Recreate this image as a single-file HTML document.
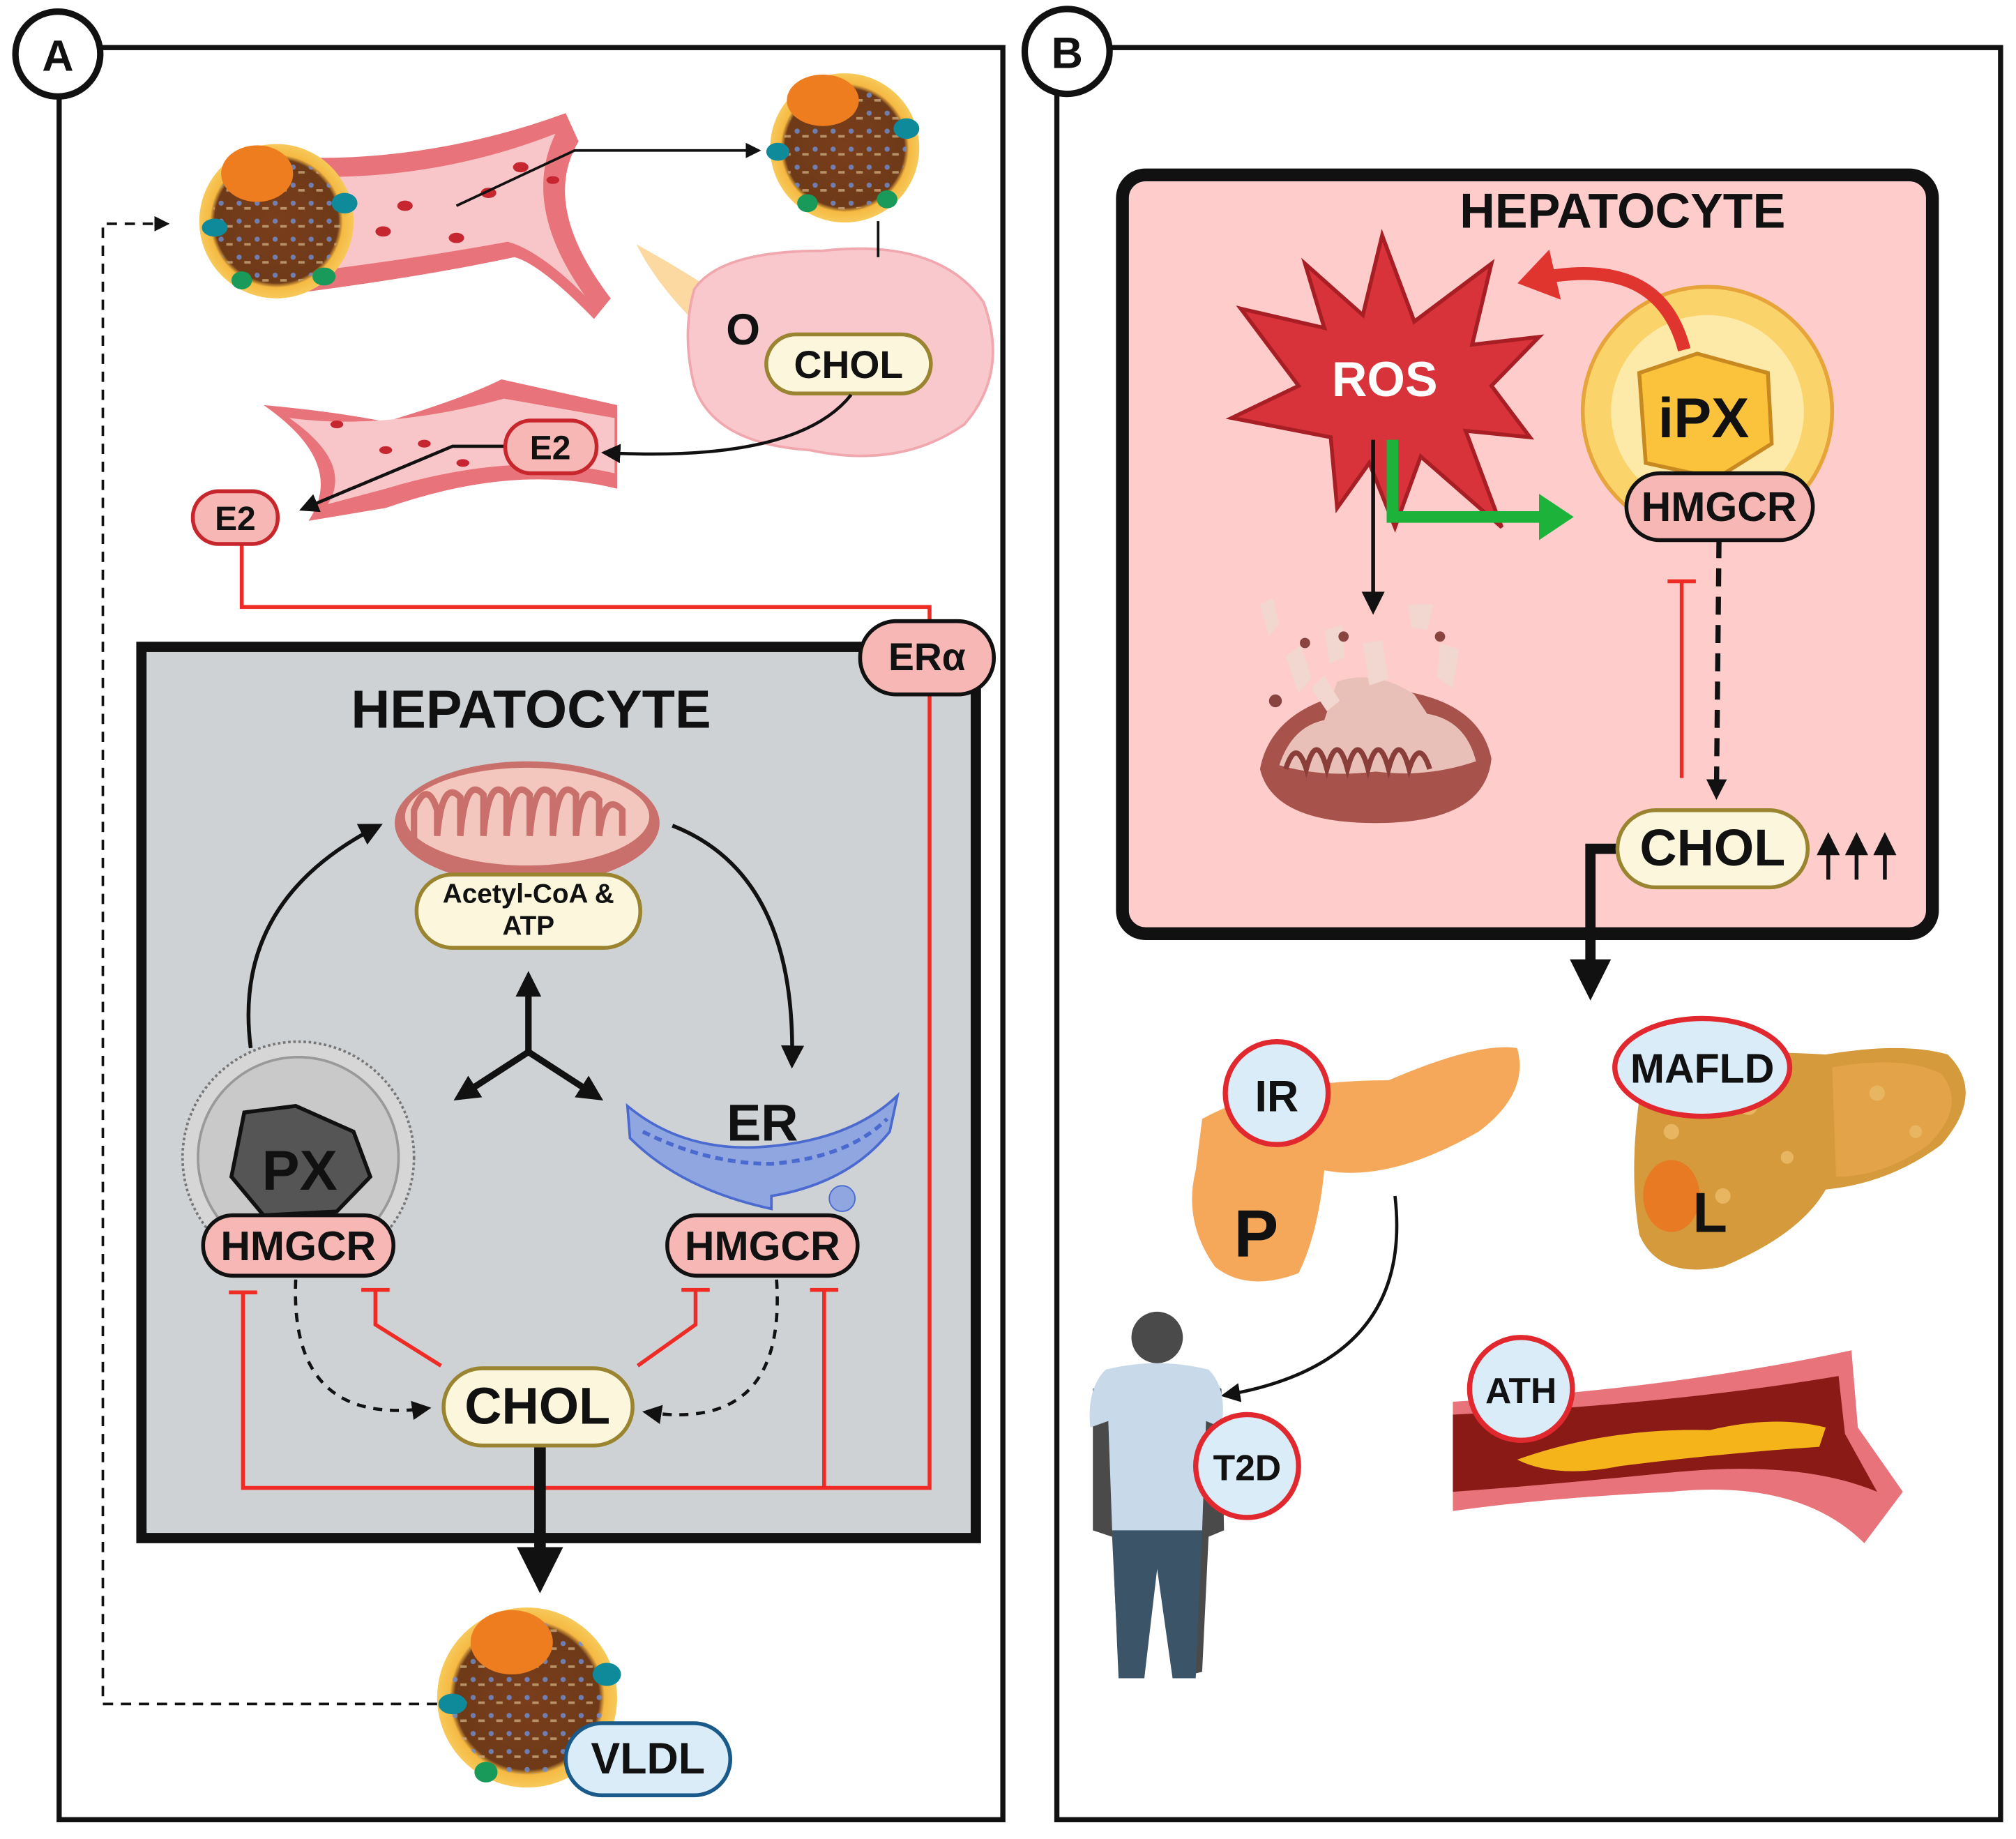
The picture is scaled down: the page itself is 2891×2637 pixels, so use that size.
<!DOCTYPE html>
<html><head><meta charset="utf-8"><style>
html,body{margin:0;padding:0;background:#fff;}
svg{display:block;}
text{font-family:"Liberation Sans",sans-serif;font-weight:bold;}
</style></head><body>
<svg width="2891" height="2637" viewBox="0 0 1568 1430" preserveAspectRatio="none" xmlns="http://www.w3.org/2000/svg">
<defs>
<marker id="ah" markerWidth="6" markerHeight="6" refX="5" refY="3" orient="auto" markerUnits="strokeWidth"><path d="M0,0 L6,3 L0,6 z" fill="#111"/></marker>
<marker id="ahb" markerWidth="4" markerHeight="4" refX="3" refY="2" orient="auto" markerUnits="strokeWidth"><path d="M0,0 L4,2 L0,4 z" fill="#111"/></marker>
<marker id="ahg" markerWidth="4" markerHeight="4" refX="2" refY="2" orient="auto" markerUnits="strokeWidth"><path d="M0,0 L3,2 L0,4 z" fill="#1db33b"/></marker>
<marker id="ahr" markerWidth="4" markerHeight="4" refX="2" refY="2" orient="auto" markerUnits="strokeWidth"><path d="M0,0 L3,2 L0,4 z" fill="#e0342e"/></marker>
<radialGradient id="lp" cx="50%" cy="50%" r="50%"><stop offset="0" stop-color="#7a3e1c"/><stop offset="0.8" stop-color="#6e3a18"/><stop offset="0.86" stop-color="#f5b942"/><stop offset="1" stop-color="#f7c95a"/></radialGradient>
<pattern id="dots" width="14" height="14" patternUnits="userSpaceOnUse"><circle cx="4" cy="4" r="2" fill="#6f8fd6"/><rect x="8" y="7" width="5" height="2" fill="#c9a77a"/></pattern>
</defs>

<rect x="46" y="37" width="734" height="1378" fill="#fff" stroke="#111" stroke-width="4"/>
<rect x="822" y="37" width="734" height="1378" fill="#fff" stroke="#111" stroke-width="4"/>

<!-- top vessel Y shape -->
<path d="M220,122 Q330,128 440,88 L450,110 Q420,160 475,232 L462,248 Q420,205 400,200 Q330,215 230,228 Z" fill="#e8737a"/>
<path d="M228,137 Q335,142 432,104 Q405,160 455,230 Q420,195 395,188 Q330,200 236,212 Z" fill="#f8c6c8"/>
<g fill="#c5262f"><ellipse cx="298" cy="180" rx="6" ry="4"/><ellipse cx="315" cy="160" rx="6" ry="4"/><ellipse cx="355" cy="185" rx="6" ry="4"/><ellipse cx="380" cy="150" rx="6" ry="4"/><ellipse cx="405" cy="130" rx="6" ry="4"/><ellipse cx="430" cy="140" rx="5" ry="3"/></g>
<path d="M205,315 Q260,320 300,328 Q360,310 390,295 L480,315 L480,380 Q400,360 300,395 L240,405 Q270,360 205,315Z" fill="#e8737a"/>
<path d="M225,325 Q300,335 392,310 L478,325 L478,368 Q400,350 300,380 L255,392 Q275,360 225,325Z" fill="#f8c6c8"/>
<g fill="#c5262f"><ellipse cx="262" cy="330" rx="5" ry="3"/><ellipse cx="300" cy="350" rx="5" ry="3"/><ellipse cx="330" cy="345" rx="5" ry="3"/><ellipse cx="360" cy="360" rx="5" ry="3"/></g>
<!-- ovary -->
<path d="M495,190 Q540,215 560,230 L540,250 Q510,220 495,190Z" fill="#fbd9a0"/>
<path d="M540,225 Q560,195 640,195 Q730,185 765,235 Q785,290 750,330 Q700,365 630,350 Q555,345 540,300 Q530,260 540,225Z" fill="#f8c8cc" stroke="#f0a7ad" stroke-width="2"/>
<text x="578" y="268" font-size="34" text-anchor="middle" fill="#111">O</text>
<rect x="596" y="260" width="128" height="46" rx="23" fill="#fbf6dc" stroke="#9a8430" stroke-width="3"/>
<text x="660" y="294" font-size="30" text-anchor="middle" fill="#111">CHOL</text>
<!-- lipoproteins -->
<g>
<circle cx="215" cy="172" r="60" fill="url(#lp)"/><circle cx="215" cy="172" r="50" fill="url(#dots)" opacity="0.8"/>
<ellipse cx="200" cy="135" rx="28" ry="22" fill="#ee7d1f"/>
<ellipse cx="167" cy="177" rx="10" ry="7" fill="#0e8a9a"/><ellipse cx="268" cy="158" rx="10" ry="8" fill="#0e8a9a"/>
<ellipse cx="188" cy="218" rx="8" ry="7" fill="#1a9a5a"/><ellipse cx="252" cy="215" rx="9" ry="7" fill="#1a9a5a"/>
</g>
<g>
<circle cx="657" cy="115" r="58" fill="url(#lp)"/><circle cx="657" cy="115" r="48" fill="url(#dots)" opacity="0.8"/>
<ellipse cx="640" cy="78" rx="28" ry="20" fill="#ee7d1f"/>
<ellipse cx="705" cy="100" rx="10" ry="8" fill="#0e8a9a"/><ellipse cx="605" cy="118" rx="9" ry="7" fill="#0e8a9a"/>
<ellipse cx="628" cy="158" rx="8" ry="7" fill="#1a9a5a"/><ellipse cx="690" cy="155" rx="8" ry="7" fill="#1a9a5a"/>
</g>
<g>
<circle cx="410" cy="1320" r="70" fill="url(#lp)"/><circle cx="410" cy="1320" r="60" fill="url(#dots)" opacity="0.8"/>
<ellipse cx="398" cy="1277" rx="32" ry="25" fill="#ee7d1f"/>
<ellipse cx="352" cy="1325" rx="11" ry="8" fill="#0e8a9a"/><ellipse cx="472" cy="1302" rx="11" ry="9" fill="#0e8a9a"/>
<ellipse cx="378" cy="1378" rx="9" ry="8" fill="#1a9a5a"/>
</g>
<polyline points="355,160 447,117 590,117" fill="none" stroke="#111" stroke-width="2" marker-end="url(#ah)"/>
<line x1="683" y1="172" x2="683" y2="200" stroke="#111" stroke-width="2"/>
<path d="M662,307 Q620,360 470,352" fill="none" stroke="#111" stroke-width="2.5" marker-end="url(#ah)"/>
<polyline points="393,347 352,347 235,396" fill="none" stroke="#111" stroke-width="2.5" marker-end="url(#ah)"/>
<rect x="393" y="327" width="71" height="41" rx="20" fill="#f7b7b5" stroke="#c8262d" stroke-width="3"/>
<text x="428" y="357" font-size="26" text-anchor="middle" fill="#111">E2</text>
<polyline points="188,423 188,472 723,472 723,490" fill="none" stroke="#ee2b24" stroke-width="3"/>
<rect x="150" y="382" width="66" height="41" rx="20" fill="#f7b7b5" stroke="#c8262d" stroke-width="3"/>
<text x="183" y="412" font-size="26" text-anchor="middle" fill="#111">E2</text>
<polyline points="340,1325 80,1325 80,174 130,174" fill="none" stroke="#111" stroke-width="2" stroke-dasharray="8,6" marker-end="url(#ah)"/>

<!-- Hepatocyte A -->
<rect x="110" y="503" width="649" height="693" fill="#cfd2d5" stroke="#111" stroke-width="8"/>
<text x="413" y="566" font-size="42" text-anchor="middle" fill="#111">HEPATOCYTE</text>
<ellipse cx="410" cy="640" rx="103" ry="48" fill="#c9706c"/>
<ellipse cx="410" cy="635" rx="95" ry="38" fill="#f3c7bd"/>
<path d="M322,655 v-25 q10,-25 18,0 v20 q4,-45 18,-30 v30 q4,-48 18,-32 v32 q4,-48 18,-32 v32 q4,-48 18,-32 v32 q4,-48 18,-32 v32 q4,-48 18,-32 v32 q4,-45 18,-28 v28 q4,-35 18,-20 v20" fill="none" stroke="#c9706c" stroke-width="5"/>
<rect x="324" y="680" width="174" height="57" rx="28" fill="#fbf6dc" stroke="#9a8430" stroke-width="3"/>
<text x="411" y="702" font-size="21" text-anchor="middle" fill="#111">Acetyl-CoA &amp;</text>
<text x="411" y="727" font-size="21" text-anchor="middle" fill="#111">ATP</text>
<path d="M195,815 Q180,700 295,642" fill="none" stroke="#111" stroke-width="3" marker-end="url(#ah)"/>
<path d="M523,642 Q620,680 616,828" fill="none" stroke="#111" stroke-width="3" marker-end="url(#ah)"/>
<g stroke="#111" stroke-width="5" fill="none">
<line x1="411" y1="818" x2="411" y2="760" marker-end="url(#ahb)"/>
<line x1="411" y1="818" x2="357" y2="853" marker-end="url(#ahb)"/>
<line x1="411" y1="818" x2="465" y2="853" marker-end="url(#ahb)"/>
</g>
<circle cx="232" cy="900" r="90" fill="#d6d6d6" stroke="#777" stroke-width="2" stroke-dasharray="2,2"/>
<circle cx="232" cy="900" r="78" fill="#c9c9c9" stroke="#999" stroke-width="2"/>
<path d="M190,865 L230,860 L275,880 L288,915 L262,942 L205,945 L180,915 Z" fill="#555" stroke="#111" stroke-width="3"/>
<text x="233" y="925" font-size="44" text-anchor="middle" fill="#111">PX</text>
<path d="M488,860 Q530,895 590,892 Q660,888 698,852 L692,880 Q660,920 600,930 L600,940 Q530,925 490,885 Z" fill="#8fa6e0" stroke="#4a6ad0" stroke-width="2"/>
<path d="M500,880 Q550,905 600,905 Q660,900 690,870" fill="none" stroke="#4a6ad0" stroke-width="3" stroke-dasharray="6,4"/>
<circle cx="655" cy="932" r="10" fill="#8fa6e0" stroke="#4a6ad0"/>
<text x="593" y="887" font-size="40" text-anchor="middle" fill="#111">ER</text>
<g stroke="#ee2b24" stroke-width="3" fill="none">
<polyline points="723,540 723,1157 189,1157 189,1005"/>
<line x1="178" y1="1005" x2="200" y2="1005"/>
<polyline points="641,1157 641,1003"/>
<line x1="630" y1="1003" x2="652" y2="1003"/>
<polyline points="343,1062 292,1030 292,1003"/>
<line x1="281" y1="1003" x2="303" y2="1003"/>
<polyline points="496,1062 541,1030 541,1003"/>
<line x1="530" y1="1003" x2="552" y2="1003"/>
</g>
<path d="M230,995 Q225,1110 333,1095" fill="none" stroke="#111" stroke-width="2.5" stroke-dasharray="7,6" marker-end="url(#ah)"/>
<path d="M604,995 Q612,1115 502,1098" fill="none" stroke="#111" stroke-width="2.5" stroke-dasharray="7,6" marker-end="url(#ah)"/>
<rect x="158" y="945" width="148" height="47" rx="23" fill="#f7b7b5" stroke="#111" stroke-width="3"/>
<text x="232" y="980" font-size="32" text-anchor="middle" fill="#111">HMGCR</text>
<rect x="519" y="945" width="148" height="47" rx="23" fill="#f7b7b5" stroke="#111" stroke-width="3"/>
<text x="593" y="980" font-size="32" text-anchor="middle" fill="#111">HMGCR</text>
<line x1="420" y1="1124" x2="420" y2="1230" stroke="#111" stroke-width="9" marker-end="url(#ahb)"/>
<rect x="345" y="1064" width="147" height="60" rx="30" fill="#fbf6dc" stroke="#9a8430" stroke-width="3"/>
<text x="418" y="1107" font-size="40" text-anchor="middle" fill="#111">CHOL</text>
<rect x="669" y="483" width="104" height="57" rx="28" fill="#f7b7b5" stroke="#111" stroke-width="3"/>
<text x="721" y="521" font-size="30" text-anchor="middle" fill="#111">ERα</text>
<rect x="440" y="1340" width="128" height="56" rx="28" fill="#d9ecf8" stroke="#1a5a8a" stroke-width="3"/>
<text x="504" y="1379" font-size="34" text-anchor="middle" fill="#111">VLDL</text>

<circle cx="45" cy="42" r="33" fill="#fff" stroke="#111" stroke-width="5"/>
<text x="45" y="55" font-size="34" text-anchor="middle" fill="#111">A</text>
<circle cx="830" cy="40" r="33" fill="#fff" stroke="#111" stroke-width="5"/>
<text x="830" y="53" font-size="34" text-anchor="middle" fill="#111">B</text>

<!-- Hepatocyte B -->
<rect x="873" y="136" width="630" height="590" rx="18" fill="#fdcccb" stroke="#111" stroke-width="10"/>
<text x="1262" y="177" font-size="38" text-anchor="middle" fill="#111">HEPATOCYTE</text>
<polygon points="1075,183 1100,250 1160,205 1145,268 1197,262 1160,300 1190,340 1140,335 1168,410 1105,355 1085,410 1065,360 1040,395 1035,340 958,325 1010,300 965,240 1030,255 1015,205 1060,245" fill="#d8323a" stroke="#a81e25" stroke-width="3"/>
<text x="1077" y="308" font-size="38" text-anchor="middle" fill="#fff">ROS</text>
<circle cx="1328" cy="320" r="97" fill="#fbd36b" stroke="#e6a43a" stroke-width="3"/>
<circle cx="1328" cy="320" r="75" fill="#fde9a8"/>
<path d="M1275,290 L1320,275 L1375,290 L1378,345 L1335,372 L1280,360 Z" fill="#fbc23b" stroke="#c88a20" stroke-width="3"/>
<text x="1325" y="340" font-size="44" text-anchor="middle" fill="#111">iPX</text>
<path d="M1310,272 Q1290,195 1190,218" fill="none" stroke="#e0342e" stroke-width="10" marker-end="url(#ahr)"/>
<polyline points="1083,342 1083,402 1215,402" fill="none" stroke="#1db33b" stroke-width="9" marker-end="url(#ahg)"/>
<line x1="1068" y1="342" x2="1068" y2="475" stroke="#111" stroke-width="3" marker-end="url(#ah)"/>
<path d="M980,598 Q990,545 1070,535 Q1150,540 1160,590 Q1155,640 1070,640 Q990,640 980,598Z" fill="#a8524c"/>
<path d="M995,595 Q1005,565 1030,560 L1040,530 Q1070,520 1100,540 L1110,555 Q1140,560 1148,592 Q1110,605 1070,600 Q1030,605 995,595Z" fill="#e9c0b8"/>
<path d="M1000,598 q8,-25 16,0 q8,-30 16,0 q8,-30 16,0 q8,-30 16,0 q8,-30 16,0 q8,-30 16,0 q8,-25 16,0" fill="none" stroke="#8a3e3a" stroke-width="4"/>
<g fill="#f2d6d0"><path d="M980,470 l10,-5 l5,20 l-8,10z"/><path d="M1000,510 l12,-8 l8,25 l-10,12z"/><path d="M1030,490 l14,-4 l2,25 l-12,5z"/><path d="M1095,470 l20,0 l-5,20 l-12,-2z"/><path d="M1120,500 l15,5 l-5,30 l-12,-8z"/><path d="M1060,500 l15,-2 l5,30 l-15,5z"/><path d="M1020,535 l10,-10 l12,20 l-10,8z"/></g>
<g fill="#8a4440"><circle cx="1015" cy="500" r="4"/><circle cx="1045" cy="495" r="4"/><circle cx="1120" cy="495" r="4"/><circle cx="992" cy="545" r="5"/></g>
<line x1="1308" y1="605" x2="1308" y2="452" stroke="#ee2b24" stroke-width="3"/>
<line x1="1297" y1="452" x2="1319" y2="452" stroke="#ee2b24" stroke-width="3"/>
<line x1="1337" y1="420" x2="1335" y2="618" stroke="#111" stroke-width="4" stroke-dasharray="14,8" marker-end="url(#ahb)"/>
<rect x="1265" y="368" width="145" height="52" rx="26" fill="#f7b7b5" stroke="#111" stroke-width="3"/>
<text x="1337" y="405" font-size="32" text-anchor="middle" fill="#111">HMGCR</text>
<polyline points="1260,660 1237,660 1237,770" fill="none" stroke="#111" stroke-width="8" marker-end="url(#ahb)"/>
<rect x="1258" y="630" width="148" height="60" rx="30" fill="#fbf6dc" stroke="#9a8430" stroke-width="3"/>
<text x="1332" y="673" font-size="40" text-anchor="middle" fill="#111">CHOL</text>
<g stroke="#111" stroke-width="3"><line x1="1422" y1="684" x2="1422" y2="650" marker-end="url(#ah)"/><line x1="1444" y1="684" x2="1444" y2="650" marker-end="url(#ah)"/><line x1="1466" y1="684" x2="1466" y2="650" marker-end="url(#ah)"/></g>

<!-- pancreas -->
<path d="M935,870 Q990,840 1080,840 Q1150,810 1180,815 Q1190,850 1150,880 Q1080,920 1030,910 Q1025,960 1010,990 Q970,1005 945,985 Q920,950 930,910 Z" fill="#f6a85a"/>
<text x="977" y="977" font-size="52" text-anchor="middle" fill="#111">P</text>
<circle cx="993" cy="850" r="40" fill="#d9ecf8" stroke="#e0282e" stroke-width="4"/>
<text x="993" y="864" font-size="34" text-anchor="middle" fill="#111">IR</text>
<!-- liver -->
<path d="M1280,825 Q1340,815 1420,820 Q1480,810 1515,820 Q1545,850 1510,890 Q1470,920 1420,925 Q1400,960 1340,985 Q1290,995 1275,960 Q1265,900 1280,825Z" fill="#d49a3c"/>
<path d="M1425,830 Q1480,820 1510,835 Q1530,860 1500,890 Q1465,915 1428,915 Z" fill="#e3a348"/>
<g fill="#e8b660"><circle cx="1300" cy="880" r="6"/><circle cx="1360" cy="860" r="7"/><circle cx="1390" cy="900" r="5"/><circle cx="1460" cy="850" r="6"/><circle cx="1490" cy="880" r="5"/><circle cx="1340" cy="930" r="6"/></g>
<ellipse cx="1300" cy="930" rx="22" ry="28" fill="#e87a24"/>
<text x="1330" y="958" font-size="44" text-anchor="middle" fill="#111">L</text>
<ellipse cx="1324" cy="830" rx="68" ry="38" fill="#d9ecf8" stroke="#e0282e" stroke-width="4"/>
<text x="1324" y="842" font-size="32" text-anchor="middle" fill="#111">MAFLD</text>
<path d="M1085,930 Q1100,1060 952,1085" fill="none" stroke="#111" stroke-width="2.5" marker-end="url(#ah)"/>
<!-- person -->
<circle cx="900" cy="1040" r="20" fill="#4a4a4a"/>
<path d="M870,1065 Q900,1055 930,1065 L950,1080 L952,1190 L940,1195 L935,1300 L915,1305 L900,1210 L890,1305 L870,1300 L865,1195 L850,1190 L850,1080 Z" fill="#4a4a4a"/>
<path d="M860,1065 Q900,1055 940,1065 Q955,1080 950,1110 L938,1105 L935,1190 Q900,1200 865,1190 L862,1105 L848,1110 Q845,1080 860,1065Z" fill="#c8d9ea"/>
<path d="M865,1190 L935,1190 L930,1305 L912,1305 L900,1220 L890,1305 L870,1305 Z" fill="#3c5468"/>
<circle cx="970" cy="1140" r="40" fill="#d9ecf8" stroke="#e0282e" stroke-width="4"/>
<text x="970" y="1151" font-size="28" text-anchor="middle" fill="#111">T2D</text>
<!-- artery -->
<path d="M1130,1090 Q1300,1080 1440,1050 L1445,1110 L1480,1160 L1450,1200 Q1400,1150 1300,1160 Q1200,1165 1130,1175Z" fill="#e8737a"/>
<path d="M1130,1100 Q1300,1092 1430,1070 L1435,1115 L1460,1160 Q1400,1135 1300,1145 Q1200,1155 1130,1160Z" fill="#8a1a16"/>
<path d="M1180,1135 Q1250,1110 1330,1112 Q1380,1100 1420,1110 L1415,1125 Q1340,1130 1260,1140 Q1210,1150 1180,1135Z" fill="#f5b41a"/>
<circle cx="1183" cy="1080" r="40" fill="#d9ecf8" stroke="#e0282e" stroke-width="4"/>
<text x="1183" y="1091" font-size="28" text-anchor="middle" fill="#111">ATH</text>
</svg>
</body></html>
